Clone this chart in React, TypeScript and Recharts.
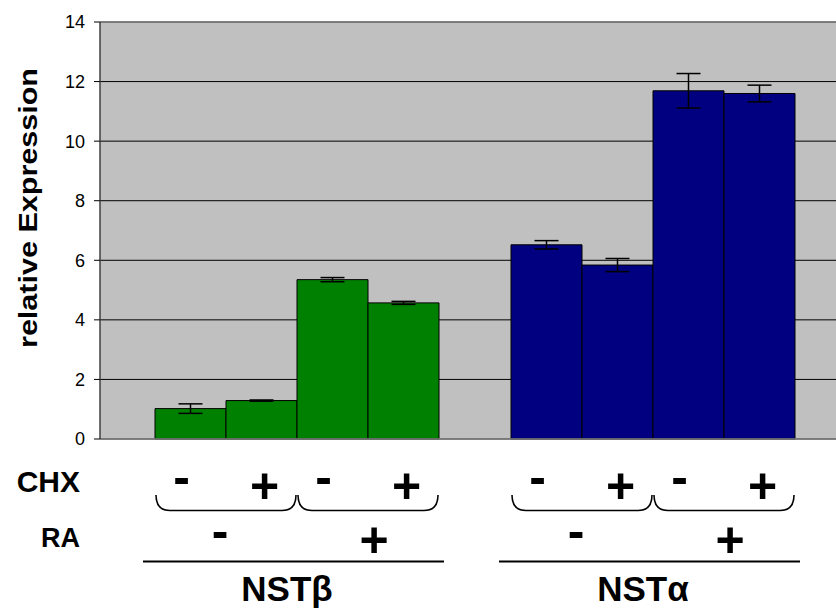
import React from 'react';
import { BarChart, Bar, XAxis, YAxis, CartesianGrid, ErrorBar, Cell, ReferenceLine } from 'recharts';

// ---- data ----
const categories = ['NSTβ', 'NSTα'];
const groupColors = ['#008000', '#000080'];
const chxMinusRaMinus = [1.02, 6.52];
const chxPlusRaMinus = [1.29, 5.84];
const chxMinusRaPlus = [5.35, 11.69];
const chxPlusRaPlus = [4.57, 11.6];
const errChxMinusRaMinus = [0.16, 0.14];
const errChxPlusRaMinus = [0.02, 0.22];
const errChxMinusRaPlus = [0.07, 0.58];
const errChxPlusRaPlus = [0.05, 0.28];
const chxLabels = ['-', '+', '-', '+'];
const raLabels = ['-', '+'];
const yTicks = [0, 2, 4, 6, 8, 10, 12, 14];
const yLabel = 'relative Expression';

const seriesKeys = ['s0', 's1', 's2', 's3'];
const seriesVals = [chxMinusRaMinus, chxPlusRaMinus, chxMinusRaPlus, chxPlusRaPlus];
const seriesErrs = [errChxMinusRaMinus, errChxPlusRaMinus, errChxMinusRaPlus, errChxPlusRaPlus];

const data = categories.map((name, ci) => {
  const row: any = { name };
  seriesKeys.forEach((k, si) => {
    row[k] = seriesVals[si][ci];
    row[k + 'e'] = seriesErrs[si][ci];
  });
  return row;
});

// ---- layout ----
const W = 836;
const H = 609;
const PLOT_LEFT = 100;
const PLOT_TOP = 22;
const PLOT_BOTTOM = 439;
const PAD_L = 19;
const PAD_R = 5;
const CAT_GAP = 36;
const FONT = '"Liberation Sans", Arial, Helvetica, sans-serif';

const band = (W - PLOT_LEFT - PAD_L - PAD_R) / categories.length;
const barW = (band - 2 * CAT_GAP) / seriesKeys.length;
const catStart = (ci: number) => PLOT_LEFT + PAD_L + ci * band;
const barLeft = (ci: number, si: number) => catStart(ci) + CAT_GAP + si * barW;
const barCenter = (ci: number, si: number) => barLeft(ci, si) + barW / 2;

const signDx = (s: string) => (s === '+' ? 3 : -9);
const signDy = (s: string) => (s === '+' ? 9 : 0);

function Overlay() {
  const items: React.ReactNode[] = [];
  categories.forEach((cat, ci) => {
    // CHX signs
    chxLabels.forEach((s, si) => {
      items.push(
        <text key={`chx${ci}${si}`} x={barCenter(ci, si) + signDx(s)} y={494 + signDy(s)}
          textAnchor="middle" fontSize={50} fontWeight="bold" fontFamily={FONT}>{s}</text>
      );
    });
    // braces per pair
    for (let p = 0; p < 2; p++) {
      const x1 = barLeft(ci, p * 2) + 1;
      const x2 = barLeft(ci, p * 2) + 2 * barW - 1;
      const d = `M ${x1} 495 Q ${x1} 510.5 ${x1 + 14} 510.5 L ${x2 - 14} 510.5 Q ${x2} 510.5 ${x2} 495`;
      items.push(<path key={`br${ci}${p}`} d={d} fill="none" stroke="#000" strokeWidth={1.6} />);
      const s = raLabels[p];
      items.push(
        <text key={`ra${ci}${p}`} x={barLeft(ci, p * 2) + barW + signDx(s) + 3} y={548 + signDy(s)}
          textAnchor="middle" fontSize={50} fontWeight="bold" fontFamily={FONT}>{s}</text>
      );
    }
    const gx1 = barLeft(ci, 0) - 12;
    const gx2 = barLeft(ci, 3) + barW + 5;
    items.push(<line key={`gl${ci}`} x1={gx1} x2={gx2} y1={561.5} y2={561.5} stroke="#000" strokeWidth={2} />);
    items.push(
      <text key={`gn${ci}`} x={catStart(ci) + band / 2 - 10} y={601} textAnchor="middle"
        fontSize={35} fontWeight="bold" fontFamily={FONT}>{cat}</text>
    );
  });
  return (
    <svg width={W} height={H} style={{ position: 'absolute', left: 0, top: 0, pointerEvents: 'none' }}>
      <text x={80} y={491.5} textAnchor="end" fontSize={30} fontWeight="bold" fontFamily={FONT}>CHX</text>
      <text x={80} y={546.5} textAnchor="end" fontSize={27} fontWeight="bold" fontFamily={FONT}>RA</text>
      <text transform={`translate(37, 208) rotate(-90)`} textAnchor="middle" fontSize={25} fontWeight="bold"
        fontFamily={FONT} textLength={280} lengthAdjust="spacingAndGlyphs">{yLabel}</text>
      {items}
    </svg>
  );
}

export default function App() {
  return (
    <div style={{ position: 'absolute', left: 0, top: 0, width: W, height: H, background: '#fff' }}>
      <BarChart
        width={W}
        height={H}
        data={data}
        margin={{ top: PLOT_TOP, right: 0, left: 0, bottom: H - PLOT_BOTTOM }}
        barCategoryGap={CAT_GAP}
        barGap={0}
      >
        <CartesianGrid vertical={false} stroke="#000" fill="#C0C0C0" fillOpacity={1} />
        <XAxis dataKey="name" hide padding={{ left: PAD_L, right: PAD_R }} />
        <YAxis
          width={PLOT_LEFT}
          domain={[0, 14]}
          ticks={yTicks}
          interval={0}
          tickSize={6}
          tickMargin={9}
          axisLine={{ stroke: '#404040', strokeWidth: 1.5 }}
          tickLine={{ stroke: '#000' }}
          tick={{ fill: '#000', fontSize: 18, fontFamily: FONT }}
        />
        <ReferenceLine y={14} stroke="#808080" strokeWidth={1.5} />
        <ReferenceLine y={0} stroke="#808080" strokeWidth={1.5} />
        {seriesKeys.map((k) => (
          <Bar key={k} dataKey={k} stroke="#000" strokeWidth={1} isAnimationActive={false}>
            {data.map((_, ci) => (
              <Cell key={ci} fill={groupColors[ci]} />
            ))}
            <ErrorBar dataKey={k + 'e'} width={12} stroke="#000" strokeWidth={1.5} />
          </Bar>
        ))}
      </BarChart>
      <Overlay />
    </div>
  );
}
